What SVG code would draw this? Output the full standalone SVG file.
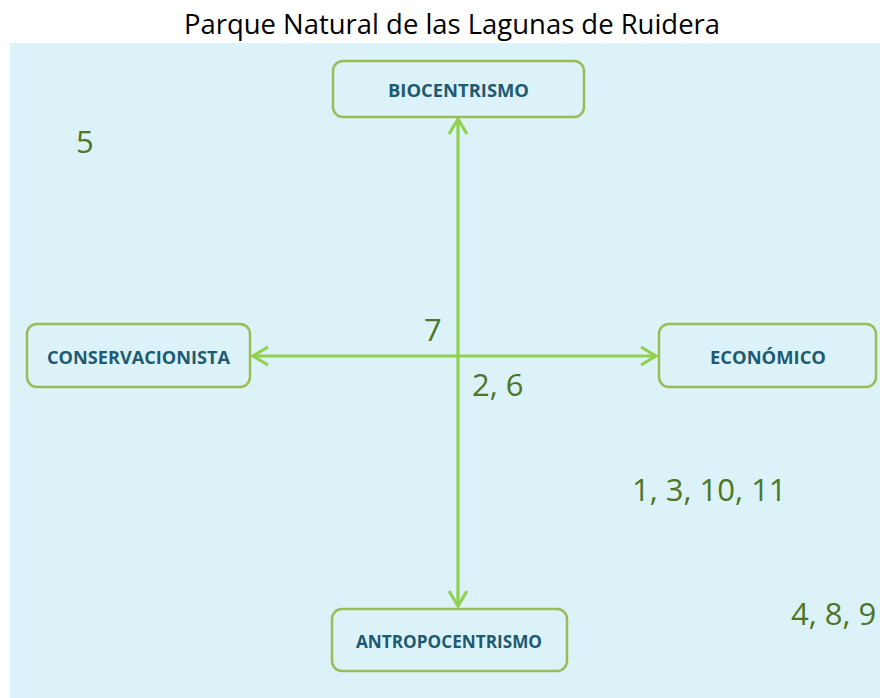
<svg xmlns="http://www.w3.org/2000/svg" width="880" height="698" viewBox="0 0 880 698">
  <defs>
    <style>
      .node rect { fill: #DBF3F8; stroke: #9BBB59; stroke-width: 2.5; }
      .node text { font-family: "Open Sans", "Liberation Sans", sans-serif; font-weight: bold; font-size: 18.5px; fill: #1F5A73; text-anchor: middle; }
      .num { font-family: "Open Sans", "Liberation Sans", sans-serif; font-size: 31px; fill: #4F7526; }
      .title { font-family: "Open Sans", "Liberation Sans", sans-serif; font-size: 28px; fill: #000000; }
      .conn line { stroke: #92D050; stroke-width: 3.2; fill: none; }
    </style>
    <marker id="chev" viewBox="-18 -12 22 24" markerWidth="22" markerHeight="24" refX="0" refY="0" orient="auto-start-reverse" markerUnits="userSpaceOnUse">
      <path d="M -15 -9 L 0 0 L -15 9" fill="none" stroke="#92D050" stroke-width="3.2" stroke-linejoin="miter"/>
    </marker>
  </defs>
  <rect x="0" y="0" width="880" height="698" fill="#FFFFFF"/>
  <rect x="10" y="43" width="870" height="655" fill="#DBF3F8"/>
  <text class="title" x="184" y="34" textLength="536" lengthAdjust="spacingAndGlyphs">Parque Natural de las Lagunas de Ruidera</text>

  <g id="connectors" class="conn">
    <line x1="458" y1="119" x2="458" y2="606" marker-start="url(#chev)" marker-end="url(#chev)"/>
    <line x1="253" y1="356" x2="656" y2="356" marker-start="url(#chev)" marker-end="url(#chev)"/>
  </g>

  <g id="biocentrismo" class="node">
    <rect x="333" y="61" width="251" height="56" rx="10"/>
    <text x="458.5" y="97" textLength="141" lengthAdjust="spacingAndGlyphs">BIOCENTRISMO</text>
  </g>
  <g id="conservacionista" class="node">
    <rect x="27" y="324" width="223" height="63" rx="10"/>
    <text x="138.5" y="364" textLength="183" lengthAdjust="spacingAndGlyphs">CONSERVACIONISTA</text>
  </g>
  <g id="economico" class="node">
    <rect x="659" y="324" width="217" height="63" rx="10"/>
    <text x="768" y="364" textLength="116" lengthAdjust="spacingAndGlyphs">ECONÓMICO</text>
  </g>
  <g id="antropocentrismo" class="node">
    <rect x="332" y="609" width="235" height="62" rx="10"/>
    <text x="449" y="648" textLength="186" lengthAdjust="spacingAndGlyphs">ANTROPOCENTRISMO</text>
  </g>

  <g id="labels">
    <text class="num" x="76" y="153">5</text>
    <text class="num" x="424" y="341">7</text>
    <text class="num" x="472" y="396">2, 6</text>
    <text class="num" x="632" y="501">1, 3, 10, 11</text>
    <text class="num" x="791" y="625">4, 8, 9</text>
  </g>
</svg>
